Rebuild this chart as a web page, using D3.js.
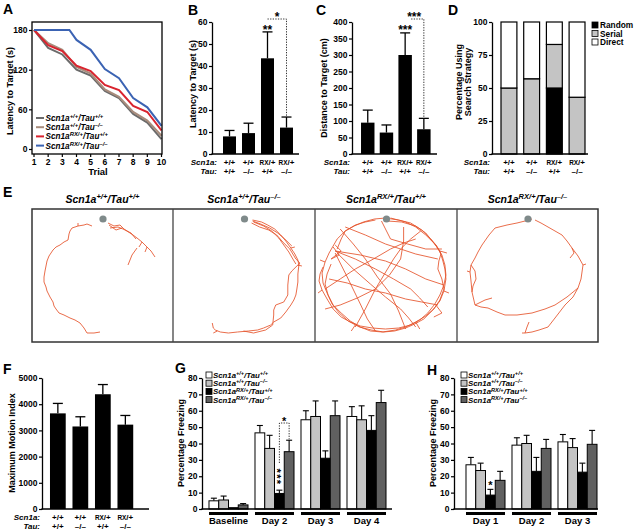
<!DOCTYPE html>
<html><head><meta charset="utf-8">
<script src="https://cdn.jsdelivr.net/npm/d3@7"></script>
<style>body{margin:0;background:#fff}svg{display:block}</style>
</head><body>
<script>
// ================= DATA =================
// Panel A – latency per trial
const trials = [1,2,3,4,5,6,7,8,9,10];
const trialsBlue = [1,2,3,3.5,4,5,6,7,8,9,10];
const latWT      = [180,153,143,120,111,88,77,53,40,15];
const latTauKO   = [180,160,150,124,114,90,79,56,43,20];
const latRX      = [180,157,148,126,118,97,89,65,56,28];
const latRXTauKO = [180,180,180,180,165,150,121,107,77,63,35];
const ticksA = [0,60,120,180];

// genotype labels
const scnGeno = ["+/+","+/+","RX/+","RX/+"];
const tauGeno = ["+/+","–/–","+/+","–/–"];

// Panel B
const latencyMean = [8,9.5,43.5,12];
const latencySem  = [2.7,4.5,12,4.8];
const ticksB = [0,10,20,30,40,50,60];
// Panel C
const distMean = [95,65,300,75];
const distSem  = [38,23,67,33];
const ticksC = [0,50,100,150,200,250,300,350,400];
// Panel D
const stratRandom = [0,0,50,0];
const stratSerial = [50,57,33,43];
const stratDirect = [50,43,17,57];
const strategyNames = ["Random","Serial","Direct"];
const ticksD = [0,25,50,75,100];
// Panel F
const motionMean = [3650,3150,4380,3220];
const motionSem  = [380,370,370,350];
const ticksF = [0,1000,2000,3000,4000,5000];
// Panel G
const ctxDays = ["Baseline","Day 2","Day 3","Day 4"];
const ctxWT      = [5,46.5,54.5,56.5],   ctxWTsem      = [1.6,4.5,5.5,6];
const ctxTauKO   = [5.5,37,56.5,54.5],   ctxTauKOsem   = [2.4,8,9.5,8.5];
const ctxRX      = [0.8,9.5,31,48],      ctxRXsem      = [0,2,4.5,9];
const ctxRXTauKO = [2.5,35,57,65],       ctxRXTauKOsem = [0.8,7,9,7.5];
// Panel H
const cueDays = ["Day 1","Day 2","Day 3"];
const cueWT      = [27,39,41],     cueWTsem      = [4.5,4.5,4.5];
const cueTauKO   = [23.5,40,37.5], cueTauKOsem   = [4.5,5,5.5];
const cueRX      = [8.5,23,22.5],  cueRXsem      = [3.5,8.5,5.5];
const cueRXTauKO = [17.5,37,39.5], cueRXTauKOsem = [5.5,5.5,8.5];
const ticksGH = [0,10,20,30,40,50,60,70,80];

// Panel E – swim trajectories (pool units, 0-141 x 0-133)
const platform = [71,10];
const traj1 = [
 [[60,17],[55,15],[52,16],[46,17],[40,19],[38,22],[37,25],[36,31],[32,33],[28,36],[24,38],[21,41],[17,47],[15,52],[14,57],[13,62],[12,68],[12,73],[14,78],[15,82],[18,88],[21,93],[22,97],[24,100],[27,104],[32,106],[38,109],[43,111],[48,114],[52,119],[55,124],[62,124],[68,123]],
 [[46,17],[46,14]],
 [[76,14],[82,17],[88,16],[92,20],[95,22],[101,26],[105,29],[110,33],[115,38],[119,42],[123,48]],
 [[78,19],[86,18],[91,20],[99,24],[104,30]],
 [[77,16],[84,21],[90,19]],
 [[105,39],[100,46],[96,56]],
 [[115,38],[113,43]],[[110,33],[107,38]]
];
const traj2 = [
 [[79,11],[88,13],[94,16],[101,20],[107,26],[112,32],[117,39],[121,45],[124,51],[125,56],[124,65],[124,73],[123,80],[122,86],[120,91],[117,96],[112,103],[107,109],[100,113],[97,116],[90,119],[84,121],[75,122],[64,123],[55,124],[47,123],[42,121],[40,119],[39,114]],
 [[80,13],[90,17],[98,22],[105,29],[110,36],[115,43],[119,50],[122,55]],
 [[78,14],[86,18],[95,21],[103,26],[109,33],[116,40],[122,50],[126,54],[124,57]],
 [[79,12],[87,15],[96,19],[104,24],[111,30],[118,37]],
 [[124,56],[118,62],[115,66],[114,76],[114,86],[110,93],[102,96],[100,101],[100,106],[99,116],[92,121],[80,124],[70,122]],
 [[117,39],[121,38]],[[124,56],[128,57]],[[40,124],[44,122]]
];
const traj3 = [
 [[72,12],[86,13],[100,17],[110,24],[118,34],[124,42],[127,52],[129,60],[130,70],[128,82],[124,92],[117,101],[108,110],[99,115],[90,119],[79,122],[68,123],[56,121],[44,118],[33,112],[24,104],[17,95],[12,84],[8,74],[7,64],[10,53],[14,44],[18,37],[22,30],[30,22],[40,16],[50,13],[60,11]],
 [[22,40],[26,30],[30,22],[39,17],[48,13],[59,10],[70,9],[83,11],[95,14],[106,21],[115,30],[121,37],[125,45],[123,52],[122,60],[126,70],[128,80],[124,91],[118,100],[110,107],[100,113],[90,118],[80,121],[67,123],[55,122],[45,118],[35,112],[26,104],[18,96],[13,86],[10,75],[12,65],[16,55]],
 [[8,58],[5,65],[4,72],[7,81],[12,90],[18,100],[26,108],[35,113],[45,117],[57,119],[70,120],[83,119],[95,116],[104,111],[112,104],[119,95],[124,86],[128,76],[130,66],[129,56],[126,46],[119,35],[110,26],[100,18],[90,13],[75,9]],
 [[20,42],[40,50],[60,60],[78,70],[95,80],[104,89],[112,98]],
 [[20,42],[45,46],[70,52],[90,60],[110,70],[128,76]],
 [[22,44],[38,60],[55,75],[70,88],[85,100],[93,109],[100,118]],
 [[25,20],[38,35],[50,50],[62,68],[75,85],[83,102],[90,120]],
 [[88,18],[88,32],[85,50],[74,66],[60,80],[42,89],[25,96],[10,100]],
 [[105,22],[95,30],[85,40],[78,50],[72,60],[60,80],[50,100],[40,118]],
 [[20,44],[32,68],[45,95],[52,110],[60,122]],
 [[30,18],[50,26],[70,35],[85,40],[100,45],[122,50]],
 [[14,70],[32,74],[50,80],[70,84],[90,90],[106,93],[122,96]],
 [[66,12],[70,20],[75,30],[92,35],[110,40],[126,40]],
 [[10,80],[25,70],[40,60],[58,50],[75,40],[88,34],[100,30]],
 [[18,38],[24,46],[16,50],[26,42],[20,36]],
 [[120,96],[126,104],[118,108]],[[100,113],[104,120]],[[40,116],[36,122]],
 [[124,42],[131,44]],[[128,82],[133,84]],[[10,53],[5,51]],[[7,81],[3,84]]
];
const traj4 = [
 [[75,10],[68,12],[60,14],[50,16],[38,19],[32,26],[25,36],[21,43],[18,49],[14,56],[13,63],[14,72],[15,83],[18,96],[24,98],[31,99],[40,103],[48,106],[60,106],[75,104],[88,100],[98,96],[110,88],[121,79],[124,70],[125,63],[126,56],[121,47],[115,39],[110,32],[105,26],[98,22],[91,18],[84,14],[78,11]],
 [[14,56],[18,62],[19,70],[16,77],[15,83]],
 [[18,96],[28,91],[35,89]],
 [[121,79],[116,88],[108,96],[98,109],[91,118],[82,121],[75,123],[68,124],[65,124]],
 [[68,124],[70,118],[72,113]],
 [[115,39],[117,44],[113,49]],[[126,56],[129,55]],[[13,63],[10,62]]
];
const trajectories = [traj1, traj2, traj3, traj4];
const trajGenotypes = [["+/+","+/+"],["+/+","–/–"],["RX/+","+/+"],["RX/+","–/–"]];

// ================= DRAWING =================
const FONT = "'Liberation Sans', Arial, Helvetica, sans-serif";
const svg = d3.select("body").append("svg").attr("width",635).attr("height",531)
  .attr("font-family",FONT);

function txt(x,y,s,o={}){
  const t = svg.append("text").attr("x",x).attr("y",y).text(s)
    .attr("font-size",o.size||8).attr("font-weight",o.weight||"bold")
    .attr("text-anchor",o.anchor||"start").attr("fill","#000");
  if(o.italic) t.attr("font-style","italic");
  if(o.rotate) t.attr("transform",`rotate(-90,${x},${y})`);
  return t;
}
function rich(x,y,parts,o){
  const t = svg.append("text").attr("x",x).attr("y",y).attr("font-size",o.size)
    .attr("font-weight",o.weight||"bold").attr("font-style",o.italic?"italic":"normal")
    .attr("text-anchor",o.anchor||"start").attr("fill","#000");
  let cur = 0;
  parts.forEach(p=>{
    const sp = t.append("tspan").text(p.t);
    const tgt = p.sup ? -o.size*0.36 : 0;
    if(tgt!==cur){ sp.attr("dy",tgt-cur); cur=tgt; }
    if(p.sup) sp.attr("font-size",o.size*0.72);
    if(p.small) sp.attr("font-size",o.size*0.8);
  });
  return t;
}
const geno = (s,t)=>[{t:"Scn1a"},{t:s,sup:true},{t:"/Tau"},{t:t,sup:true}];

function yAxis(x, scale, ticks, fmt){
  const ax = d3.axisLeft(scale).tickValues(ticks).tickSize(3).tickSizeOuter(0).tickPadding(1.5)
    .tickFormat(fmt || d3.format("d"));
  const g = svg.append("g").attr("transform",`translate(${x},0)`).call(ax);
  g.attr("font-family",FONT);
  g.select(".domain").attr("stroke","#000").attr("stroke-width",1.3);
  g.selectAll(".tick line").attr("stroke","#000").attr("stroke-width",1.2);
  g.selectAll(".tick text").attr("font-size",8.5).attr("font-weight","bold").attr("fill","#000");
  return g;
}
function hline(x0,x1,y,w=1.3){ svg.append("line").attr("x1",x0).attr("x2",x1).attr("y1",y).attr("y2",y).attr("stroke","#000").attr("stroke-width",w); }
function dotted(pts){ svg.append("path").attr("d",d3.line()(pts)).attr("fill","none").attr("stroke","#000").attr("stroke-width",0.8).attr("stroke-dasharray","1.3,1.3"); }
function errBar(cx, y0, y1, cap, w=1.3){
  svg.append("line").attr("x1",cx).attr("x2",cx).attr("y1",y0).attr("y2",y1).attr("stroke","#000").attr("stroke-width",w);
  svg.append("line").attr("x1",cx-cap/2).attr("x2",cx+cap/2).attr("y1",y1).attr("y2",y1).attr("stroke","#000").attr("stroke-width",w);
}
function panelLetter(x,y,s){ txt(x,y,s,{size:14}); }
function genoRows(xb, xr, y1, y2){
  txt(xr,y1,"Scn1a:",{italic:true,anchor:"end"});
  txt(xr,y2,"Tau:",{italic:true,anchor:"end"});
  scnGeno.forEach((s,i)=>{
    const cx = xb(i)+xb.bandwidth()/2;
    if(s.startsWith("RX")) rich(cx,y1,[{t:"RX",small:true},{t:s.slice(2)}],{size:8,anchor:"middle"});
    else txt(cx,y1,s,{anchor:"middle"});
    txt(cx,y2,tauGeno[i],{anchor:"middle"});
  });
}
function star(x,y,s,size=11){ txt(x,y,s,{size:size,anchor:"middle"}); }

// ---------- Panel A ----------
panelLetter(3,14,"A");
{
  const x = d3.scaleLinear().domain([1,10]).range([34,161.5]);
  const y = d3.scaleLinear().domain([0,180]).range([149,30]);
  const cols = ["#6b6b6b","#a88c7c","#d9232e","#3b63b3"];
  const series = [[trials,latWT],[trials,latTauKO],[trials,latRX],[trialsBlue,latRXTauKO]];
  svg.append("clipPath").attr("id","clipA").append("rect").attr("x",32).attr("y",22).attr("width",130).attr("height",132);
  series.forEach(([xs,ys],k)=>{
    svg.append("path").attr("clip-path","url(#clipA)")
      .attr("d",d3.line().x((d,i)=>x(xs[i])).y(d=>y(d))(ys))
      .attr("fill","none").attr("stroke",cols[k]).attr("stroke-width",2);
  });
  svg.append("rect").attr("x",32).attr("y",22).attr("width",130).attr("height",132)
    .attr("fill","none").attr("stroke","#000").attr("stroke-width",1.3);
  const ya = yAxis(32,y,ticksA); ya.select(".domain").remove();
  trials.forEach(t=>{
    svg.append("line").attr("x1",x(t)).attr("x2",x(t)).attr("y1",154).attr("y2",157).attr("stroke","#000").attr("stroke-width",1.2);
    txt(x(t),165,String(t),{size:8.5,anchor:"middle"});
  });
  txt(98,175,"Trial",{size:9.5,anchor:"middle"});
  txt(13,91,"Latency to Target (s)",{size:9,anchor:"middle",rotate:true});
  trajGenotypes.forEach((g,i)=>{
    const yy = 118+i*9.2;
    svg.append("line").attr("x1",36).attr("x2",44).attr("y1",yy).attr("y2",yy).attr("stroke",cols[i]).attr("stroke-width",2);
    rich(45.5,yy+3,geno(g[0],g[1]),{size:8.2,italic:true});
  });
}

// ---------- Panel B ----------
panelLetter(188,15,"B");
{
  const y = d3.scaleLinear().domain([0,60]).range([154,22]);
  const xb = d3.scaleBand().domain([0,1,2,3]).range([220,296]).paddingInner(0.316).paddingOuter(0.158);
  latencyMean.forEach((v,i)=>{
    errBar(xb(i)+xb.bandwidth()/2, y(v), y(v+latencySem[i]), 10);
    svg.append("rect").attr("x",xb(i)).attr("y",y(v)).attr("width",xb.bandwidth()).attr("height",y(0)-y(v)).attr("fill","#000");
  });
  yAxis(212,y,ticksB);
  hline(211.4,299,154);
  genoRows(xb,217,165,174);
  txt(196,84,"Latency to Target (s)",{size:9,anchor:"middle",rotate:true});
  const c2 = xb(2)+xb.bandwidth()/2, c3 = xb(3)+xb.bandwidth()/2;
  star(c2,34,"**",12);
  dotted([[c2,19],[c3,19],[c3,y(latencyMean[3]+latencySem[3])-1]]);
  star((c2+c3)/2,21,"*",12);
}

// ---------- Panel C ----------
panelLetter(316,15,"C");
{
  const y = d3.scaleLinear().domain([0,400]).range([154,22]);
  const xb = d3.scaleBand().domain([0,1,2,3]).range([358.4,433.2]).paddingInner(0.28).paddingOuter(0.14);
  distMean.forEach((v,i)=>{
    errBar(xb(i)+xb.bandwidth()/2, y(v), y(v+distSem[i]), 10);
    svg.append("rect").attr("x",xb(i)).attr("y",y(v)).attr("width",xb.bandwidth()).attr("height",y(0)-y(v)).attr("fill","#000");
  });
  yAxis(352,y,ticksC);
  hline(351.4,437,154);
  genoRows(xb,350,165,174);
  txt(327,88,"Distance to Target (cm)",{size:9,anchor:"middle",rotate:true});
  const c2 = xb(2)+xb.bandwidth()/2, c3 = xb(3)+xb.bandwidth()/2;
  star(c2,34,"***",12);
  dotted([[c2+6,19],[c3,19],[c3,y(distMean[3]+distSem[3])-1]]);
  star(c2+9,21,"***",12);
}

// ---------- Panel D ----------
panelLetter(448,15,"D");
{
  const y = d3.scaleLinear().domain([0,100]).range([154,22]);
  const xb = d3.scaleBand().domain([0,1,2,3]).range([497.6,588.4]).paddingInner(0.3).paddingOuter(0.15);
  const fills = ["#000","#c4c4c4","#fff"];
  const stacks = [stratRandom,stratSerial,stratDirect];
  [0,1,2,3].forEach(i=>{
    let base = 0;
    stacks.forEach((s,k)=>{
      if(s[i]>0){
        svg.append("rect").attr("x",xb(i)).attr("y",y(base+s[i])).attr("width",xb.bandwidth())
          .attr("height",y(base)-y(base+s[i])).attr("fill",fills[k]).attr("stroke","#000").attr("stroke-width",1.2);
      }
      base += s[i];
    });
  });
  yAxis(492,y,ticksD);
  hline(491.4,588,154);
  genoRows(xb,490,165,174);
  txt(461.5,82,"Percentage Using",{size:9,anchor:"middle",rotate:true});
  txt(470.5,82,"Search Strategy",{size:9,anchor:"middle",rotate:true});
  strategyNames.forEach((n,k)=>{
    const yy = 25+k*8.5;
    svg.append("rect").attr("x",592).attr("y",yy-3).attr("width",6).attr("height",6).attr("fill",fills[k]).attr("stroke","#000").attr("stroke-width",0.8);
    txt(600,yy+3,n,{size:8.3});
  });
}

// ---------- Panel E ----------
panelLetter(3,197,"E");
{
  const boxes = [[32,173],[173,315],[315,457],[457,598]];
  const top = 209, bot = 342;
  boxes.forEach((b,i)=>{
    const x = d3.scaleLinear().domain([0,141]).range([b[0],b[1]]);
    const y = d3.scaleLinear().domain([0,133]).range([top,bot]);
    const line = d3.line().x(d=>x(d[0])).y(d=>y(d[1])).curve(d3.curveLinear);
    trajectories[i].forEach(p=>{
      svg.append("path").attr("d",line(p)).attr("fill","none").attr("stroke","#e5532b")
        .attr("stroke-width",0.85).attr("stroke-linejoin","round");
    });
    svg.append("circle").attr("cx",x(platform[0])).attr("cy",y(platform[1])).attr("r",3.6).attr("fill","#7f8a8a");
    rich((b[0]+b[1])/2,203,geno(trajGenotypes[i][0],trajGenotypes[i][1]),{size:10.5,italic:true,anchor:"middle"});
  });
  svg.append("rect").attr("x",32).attr("y",top).attr("width",598-32).attr("height",bot-top)
    .attr("fill","none").attr("stroke","#333").attr("stroke-width",1.5);
  boxes.slice(1).forEach(b=>{
    svg.append("line").attr("x1",b[0]).attr("x2",b[0]).attr("y1",top).attr("y2",bot).attr("stroke","#444").attr("stroke-width",1.3);
  });
}

// ---------- Panel F ----------
panelLetter(3,374,"F");
{
  const y = d3.scaleLinear().domain([0,5000]).range([509,378]);
  const xb = d3.scaleBand().domain([0,1,2,3]).range([46.6,136.6]).paddingInner(0.3).paddingOuter(0.15);
  motionMean.forEach((v,i)=>{
    errBar(xb(i)+xb.bandwidth()/2, y(v), y(v+motionSem[i]), 10);
    svg.append("rect").attr("x",xb(i)).attr("y",y(v)).attr("width",xb.bandwidth()).attr("height",y(0)-y(v)).attr("fill","#000");
  });
  yAxis(42,y,ticksF);
  hline(41.4,149,509);
  genoRows(xb,40,520,528.5);
  txt(14.5,443,"Maximum Motion Index",{size:9,anchor:"middle",rotate:true});
}

// ---------- Panels G & H ----------
const grpFills = ["#ffffff","#c4c4c4","#000000","#606060"];
function groupedPanel(o){
  const y = d3.scaleLinear().domain([0,80]).range([509,378]);
  const xg = d3.scaleBand().domain(o.days).range(o.range).paddingInner(0.152).paddingOuter(0.076);
  const xs = d3.scaleBand().domain([0,1,2,3]).range([0,xg.bandwidth()]);
  o.series.forEach((s,k)=>{
    s.vals.forEach((v,j)=>{
      const x0 = xg(o.days[j])+xs(k);
      if(s.sems[j]>0) errBar(x0+xs.bandwidth()/2, y(v), y(v+s.sems[j]), 6, 1.1);
      svg.append("rect").attr("x",x0).attr("y",y(v)).attr("width",xs.bandwidth()).attr("height",y(0)-y(v))
        .attr("fill",grpFills[k]).attr("stroke","#000").attr("stroke-width",1);
    });
  });
  yAxis(o.axisX,y,ticksGH);
  hline(o.axisX-0.6,o.axisEnd,509);
  o.days.forEach(d=>{
    hline(xg(d),xg(d)+xg.bandwidth(),513.5,3);
    txt(xg(d)+xg.bandwidth()/2,523.5,d,{size:9.5,anchor:"middle"});
  });
  txt(o.axisX-18.5,443,"Percentage Freezing",{size:9,anchor:"middle",rotate:true});
  trajGenotypes.forEach((g,i)=>{
    const yy = 375+i*8.2;
    svg.append("rect").attr("x",o.legX).attr("y",yy-3).attr("width",6).attr("height",6)
      .attr("fill",grpFills[i]).attr("stroke","#000").attr("stroke-width",0.8);
    rich(o.legX+7,yy+3,geno(g[0],g[1]),{size:7.8,italic:true});
  });
  return {y,xg,xs};
}
panelLetter(175,373,"G");
{
  const r = groupedPanel({days:ctxDays, range:[205.5,389.5], axisX:202, axisEnd:392, legX:206,
    series:[{vals:ctxWT,sems:ctxWTsem},{vals:ctxTauKO,sems:ctxTauKOsem},{vals:ctxRX,sems:ctxRXsem},{vals:ctxRXTauKO,sems:ctxRXTauKOsem}]});
  const g0 = r.xg("Day 2");
  const cB = g0+r.xs(2)+r.xs.bandwidth()/2, cD = g0+r.xs(3)+r.xs.bandwidth()/2;
  // vertical stack of three asterisks (rotated text)
  const sx = cB-6, sy = 477;
  svg.append("text").attr("x",sx).attr("y",sy).attr("font-size",11).attr("font-weight","bold")
    .attr("text-anchor","middle").attr("letter-spacing",1.3).attr("fill","#000")
    .attr("transform",`rotate(90,${sx},${sy})`).text("***");
  dotted([[cB,463],[cB,423],[cD,423],[cD,r.y(ctxRXTauKO[1]+ctxRXTauKOsem[1])-1]]);
  star((cB+cD)/2,425,"*",11);
}
panelLetter(427,375,"H");
{
  const r = groupedPanel({days:cueDays, range:[462.5,600.5], axisX:454, axisEnd:598, legX:461,
    series:[{vals:cueWT,sems:cueWTsem},{vals:cueTauKO,sems:cueTauKOsem},{vals:cueRX,sems:cueRXsem},{vals:cueRXTauKO,sems:cueRXTauKOsem}]});
  const g0 = r.xg("Day 1");
  star(g0+r.xs(2)+r.xs.bandwidth()/2,489,"*",11);
}
</script>
</body></html>
